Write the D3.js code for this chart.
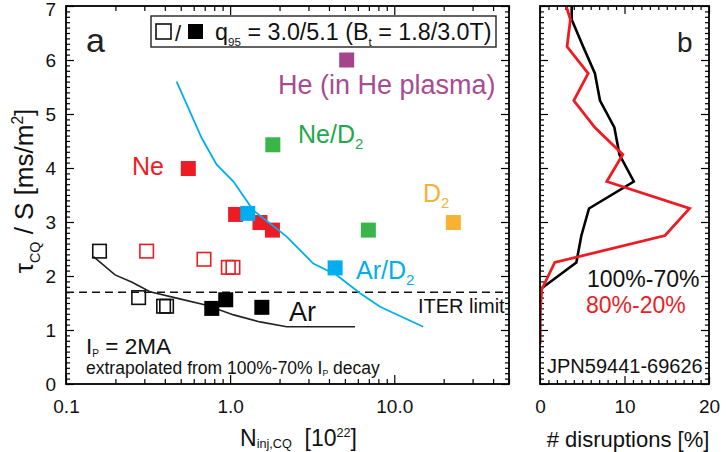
<!DOCTYPE html>
<html><head><meta charset="utf-8">
<script src="https://cdn.jsdelivr.net/npm/d3@7"></script>
<style>
html,body{margin:0;padding:0;background:#fff;}
svg text{font-family:"Liberation Sans",Arial,Helvetica,sans-serif;}
</style></head>
<body>
<svg id="chart" width="726" height="452"></svg>
<script>
// ---------- DATA ----------
// Panel a: tau_CQ/S vs N_inj,CQ
const openBlackX = [0.16, 0.277, 0.393, 0.41];
const openBlackY = [2.46, 1.60, 1.44, 1.44];
const fillBlackX = [0.773, 0.94, 1.56];
const fillBlackY = [1.40, 1.56, 1.42];
const openRedX = [0.31, 0.693, 0.975, 1.04];
const openRedY = [2.46, 2.31, 2.16, 2.16];
const fillRedX = [0.556, 1.08, 1.52, 1.81];
const fillRedY = [3.99, 3.14, 2.99, 2.85];
const blueX = [1.28, 4.36];
const blueY = [3.16, 2.15];
const greenX = [1.82, 6.95];
const greenY = [4.43, 2.85];
const orangeX = [22.9];
const orangeY = [2.99];
const purpleX = [5.13];
const purpleY = [6.0];
const arD2FitX = [0.472, 0.672, 0.828, 1.047, 1.38, 2.21, 3.21, 4.45, 6.19, 8.19, 15.0];
const arD2FitY = [5.60, 4.55, 4.06, 3.75, 3.22, 2.73, 2.23, 2.02, 1.68, 1.43, 1.06];
const arFitX = [0.147, 0.199, 0.251, 0.325, 0.472, 0.72, 1.05, 1.52, 2.21, 5.77];
const arFitY = [2.36, 2.02, 1.89, 1.71, 1.59, 1.46, 1.28, 1.15, 1.06, 1.06];
const iterLimit = 1.7;
const xMajorTicks = [0.1, 1, 10];
const yMajorTicks = [0, 1, 2, 3, 4, 5, 6, 7];

// Panel b: disruption histograms
const binCenters = [0.75, 1.25, 1.75, 2.25, 2.75, 3.25, 3.75, 4.25, 4.75, 5.25, 5.75, 6.25, 6.75, 7.25];
const pct100_70 = [0, 0, 0, 4.3, 4.9, 5.8, 11.1, 9.4, 8.8, 7.1, 6.5, 5.1, 3.75, 3.75];
const pct80_20 = [0, 0, 0.2, 1.75, 14.8, 17.7, 7.9, 9.8, 6.5, 4.0, 5.7, 3.2, 3.6, 2.6];
const bMajorTicks = [0, 10, 20];

// ---------- COLOURS ----------
const RED = "#ed1c24", BLUE = "#00aeef", GREEN = "#39b54a", ORANGE = "#f8b133", PURPLE = "#a4448c";

const svg = d3.select("#chart");

// ---------- SCALES ----------
const x = d3.scaleLog().domain([0.1, 50]).range([66, 509]);
const y = d3.scaleLinear().domain([0, 7]).range([384, 6]);
const xb = d3.scaleLinear().domain([0, 20]).range([540, 709]);

// ---------- helpers ----------
function styleAxis(g, fs) {
  g.select(".domain").remove();
  g.selectAll(".tick line").attr("stroke", "#000").attr("stroke-width", 1.2);
  g.selectAll(".tick text").attr("fill", "#111").style("font-size", fs + "px")
    .style("font-family", '"Liberation Sans",Arial,sans-serif');
}
function range(a, b, s) { const r = []; for (let v = a; v <= b + 1e-9; v += s) r.push(+v.toFixed(4)); return r; }
const yMinor = range(0, 7, 0.1).filter(v => Math.abs(v - Math.round(v)) > 1e-6);
const xMinor = [];
[0.1, 1, 10].forEach(d => { for (let k = 2; k <= 9; k++) { const v = d * k; if (v <= 50) xMinor.push(v); } });
const bMinor = range(0, 20, 1).filter(v => v % 10 !== 0);

// ---------- PANEL A axes ----------
const noLab = () => "";
// bottom
svg.append("g").attr("transform", "translate(0,384)")
  .call(d3.axisBottom(x).tickValues(xMajorTicks).tickSize(-9).tickPadding(16).tickFormat(d3.format(".1f")))
  .call(g => styleAxis(g, 19));
svg.append("g").attr("transform", "translate(0,384)")
  .call(d3.axisBottom(x).tickValues(xMinor).tickSize(-5).tickFormat(noLab)).call(g => styleAxis(g, 19));
// top
svg.append("g").attr("transform", "translate(0,6)")
  .call(d3.axisTop(x).tickValues(xMajorTicks).tickSize(-9).tickFormat(noLab)).call(g => styleAxis(g, 19));
svg.append("g").attr("transform", "translate(0,6)")
  .call(d3.axisTop(x).tickValues(xMinor).tickSize(-5).tickFormat(noLab)).call(g => styleAxis(g, 19));
// left
svg.append("g").attr("transform", "translate(66,0)")
  .call(d3.axisLeft(y).tickValues(yMajorTicks).tickSize(-8).tickPadding(10).tickFormat(d3.format("d")))
  .call(g => styleAxis(g, 19))
  .call(g => g.selectAll(".tick text").filter(d => d === 7).attr("dy", "0.32em").attr("y", 3));
svg.append("g").attr("transform", "translate(66,0)")
  .call(d3.axisLeft(y).tickValues(yMinor).tickSize(-4).tickFormat(noLab)).call(g => styleAxis(g, 19));
// right
svg.append("g").attr("transform", "translate(509,0)")
  .call(d3.axisRight(y).tickValues(yMajorTicks).tickSize(-8).tickFormat(noLab)).call(g => styleAxis(g, 19));
svg.append("g").attr("transform", "translate(509,0)")
  .call(d3.axisRight(y).tickValues(yMinor).tickSize(-4).tickFormat(noLab)).call(g => styleAxis(g, 19));

// ---------- PANEL B axes ----------
svg.append("g").attr("transform", "translate(0,384)")
  .call(d3.axisBottom(xb).tickValues(bMajorTicks).tickSize(-8).tickPadding(16).tickFormat(d3.format("d")))
  .call(g => styleAxis(g, 19));
svg.append("g").attr("transform", "translate(0,384)")
  .call(d3.axisBottom(xb).tickValues(bMinor).tickSize(-4).tickFormat(noLab)).call(g => styleAxis(g, 19));
svg.append("g").attr("transform", "translate(0,6)")
  .call(d3.axisTop(xb).tickValues(bMajorTicks).tickSize(-8).tickFormat(noLab)).call(g => styleAxis(g, 19));
svg.append("g").attr("transform", "translate(0,6)")
  .call(d3.axisTop(xb).tickValues(bMinor).tickSize(-4).tickFormat(noLab)).call(g => styleAxis(g, 19));
svg.append("g").attr("transform", "translate(540,0)")
  .call(d3.axisLeft(y).tickValues(yMajorTicks).tickSize(-8).tickFormat(noLab)).call(g => styleAxis(g, 19));
svg.append("g").attr("transform", "translate(540,0)")
  .call(d3.axisLeft(y).tickValues(yMinor).tickSize(-4).tickFormat(noLab)).call(g => styleAxis(g, 19));
svg.append("g").attr("transform", "translate(709,0)")
  .call(d3.axisRight(y).tickValues(yMajorTicks).tickSize(-8).tickFormat(noLab)).call(g => styleAxis(g, 19));
svg.append("g").attr("transform", "translate(709,0)")
  .call(d3.axisRight(y).tickValues(yMinor).tickSize(-4).tickFormat(noLab)).call(g => styleAxis(g, 19));

// ---------- clip paths ----------
const defs = svg.append("defs");
defs.append("clipPath").attr("id", "clipA").append("rect")
  .attr("x", x.range()[0]).attr("y", y.range()[1]).attr("width", x.range()[1] - x.range()[0]).attr("height", y.range()[0] - y.range()[1]);
defs.append("clipPath").attr("id", "clipB").append("rect")
  .attr("x", xb.range()[0]).attr("y", y.range()[1]).attr("width", xb.range()[1] - xb.range()[0]).attr("height", y.range()[0] - y.range()[1]);

// ---------- PANEL A content ----------
const gA = svg.append("g").attr("clip-path", "url(#clipA)");
// ITER limit dashed line
gA.append("line").attr("x1", x.range()[0]).attr("x2", x.range()[1])
  .attr("y1", y(iterLimit)).attr("y2", y(iterLimit))
  .attr("stroke", "#111").attr("stroke-width", 1.6).attr("stroke-dasharray", "8,5");

const line = d3.line().x(d => x(d[0])).y(d => y(d[1]));
gA.append("path").datum(arFitX.map((v, i) => [v, arFitY[i]]))
  .attr("d", line).attr("fill", "none").attr("stroke", "#222").attr("stroke-width", 1.6);

const S = 15;
function squares(xs, ys, color, filled) {
  gA.append("g").selectAll("rect").data(xs.map((v, i) => [v, ys[i]])).join("rect")
    .attr("x", d => x(d[0]) - (filled ? S / 2 : (S - 1.5) / 2))
    .attr("y", d => y(d[1]) - (filled ? S / 2 : (S - 1.5) / 2))
    .attr("width", filled ? S : S - 1.5).attr("height", filled ? S : S - 1.5)
    .attr("fill", filled ? color : "none")
    .attr("stroke", filled ? "none" : color).attr("stroke-width", 1.6);
}
squares(openBlackX, openBlackY, "#111", false);
squares(fillBlackX, fillBlackY, "#000", true);
squares(openRedX, openRedY, RED, false);
squares(fillRedX, fillRedY, RED, true);
squares(blueX, blueY, BLUE, true);
squares(greenX, greenY, GREEN, true);
squares(orangeX, orangeY, ORANGE, true);
squares(purpleX, purpleY, PURPLE, true);

gA.append("path").datum(arD2FitX.map((v, i) => [v, arD2FitY[i]]))
  .attr("d", line).attr("fill", "none").attr("stroke", BLUE).attr("stroke-width", 1.8);

// ---------- PANEL B content ----------
const gB = svg.append("g").attr("clip-path", "url(#clipB)");
const lineB = d3.line().x(d => xb(d[0])).y(d => y(d[1]));
gB.append("path").datum(pct100_70.map((v, i) => [v, binCenters[i]]))
  .attr("d", lineB).attr("fill", "none").attr("stroke", "#000").attr("stroke-width", 2.6).attr("stroke-linejoin", "miter");
gB.append("path").datum(pct80_20.map((v, i) => [v, binCenters[i]]))
  .attr("d", lineB).attr("fill", "none").attr("stroke", RED).attr("stroke-width", 2.8).attr("stroke-linejoin", "miter");

// ---------- frames ----------
svg.append("rect").attr("x", 66).attr("y", 6).attr("width", 443).attr("height", 378)
  .attr("fill", "none").attr("stroke", "#000").attr("stroke-width", 1.8);
svg.append("rect").attr("x", 540).attr("y", 6).attr("width", 169).attr("height", 378)
  .attr("fill", "none").attr("stroke", "#000").attr("stroke-width", 1.8);

// ---------- text helper ----------
function rich(parent, xPos, yPos, parts, opts) {
  const t = parent.append("text").attr("x", xPos).attr("y", yPos)
    .style("font-size", opts.size + "px").attr("fill", opts.color || "#111");
  if (opts.anchor) t.attr("text-anchor", opts.anchor);
  if (opts.transform) t.attr("transform", opts.transform);
  let shift = 0;
  parts.forEach(p => {
    const s = t.append("tspan").text(p.t);
    let target = 0;
    if (p.sub) target = opts.size * (p.shift != null ? p.shift : 0.25);
    if (p.sup) target = -opts.size * 0.38;
    s.attr("dy", target - shift);
    shift = target;
    if (p.sub || p.sup) s.style("font-size", (opts.size * (p.scale || 0.6)) + "px");
  });
  return t;
}

// panel labels
rich(svg, 86, 52, [{t: "a"}], {size: 34, color: "#222"});
rich(svg, 677, 52, [{t: "b"}], {size: 28, color: "#222"});

// legend box
svg.append("rect").attr("x", 151).attr("y", 16).attr("width", 345).attr("height", 31)
  .attr("fill", "#fff").attr("stroke", "#222").attr("stroke-width", 1.4);
svg.append("rect").attr("x", 156).attr("y", 24).attr("width", 15).attr("height", 15)
  .attr("fill", "none").attr("stroke", "#111").attr("stroke-width", 1.6);
rich(svg, 175, 41, [{t: "/"}], {size: 22});
svg.append("rect").attr("x", 188).attr("y", 24).attr("width", 15).attr("height", 15).attr("fill", "#000");
rich(svg, 215, 40, [{t: "q"}, {t: "95", sub: true, scale: 0.5}, {t: " = 3.0/5.1 (B"}, {t: "t", sub: true, scale: 0.5}, {t: " = 1.8/3.0T)"}], {size: 23.3});

// species labels
rich(svg, 278, 94, [{t: "He (in He plasma)"}], {size: 27, color: "#a84c91"});
rich(svg, 298, 143, [{t: "Ne/D"}, {t: "2", sub: true}], {size: 25, color: "#22a84a"});
rich(svg, 132, 175, [{t: "Ne"}], {size: 25, color: RED});
rich(svg, 423, 202, [{t: "D"}, {t: "2", sub: true}], {size: 25, color: ORANGE});
rich(svg, 356, 279, [{t: "Ar/D"}, {t: "2", sub: true}], {size: 25, color: BLUE});
rich(svg, 289, 321, [{t: "Ar"}], {size: 27, color: "#111"});
rich(svg, 418, 313, [{t: "ITER limit"}], {size: 20, color: "#111"});
rich(svg, 86, 354, [{t: "I"}, {t: "P", sub: true, scale: 0.45, shift: 0.15}, {t: " = 2MA"}], {size: 22.5, color: "#111"});
rich(svg, 86, 374, [{t: "extrapolated from 100%-70% I"}, {t: "P", sub: true, scale: 0.5, shift: 0.12}, {t: " decay"}], {size: 17.5, color: "#111"});

// panel b labels
rich(svg, 587, 287, [{t: "100%-70%"}], {size: 23, color: "#111"});
rich(svg, 586, 313, [{t: "80%-20%"}], {size: 23, color: RED});
rich(svg, 547, 373, [{t: "JPN59441-69626"}], {size: 20, color: "#111"});

// axis titles
rich(svg, 240, 446, [{t: "N"}, {t: "inj,CQ", sub: true, scale: 0.55, shift: 0.08}, {t: "\u00a0\u00a0[10"}, {t: "22", sup: true, scale: 0.55}, {t: "]"}], {size: 23, color: "#111"});
rich(svg, 628, 447, [{t: "# disruptions [%]"}], {size: 22, color: "#111", anchor: "middle"});
rich(svg, 0, 0, [{t: "τ"}, {t: "CQ", sub: true, scale: 0.55}, {t: " / S [ms/m"}, {t: "2", sup: true, scale: 0.6}, {t: "]"}],
  {size: 26, color: "#111", anchor: "middle", transform: "translate(33,191) rotate(-90)"});
</script>
</body></html>
